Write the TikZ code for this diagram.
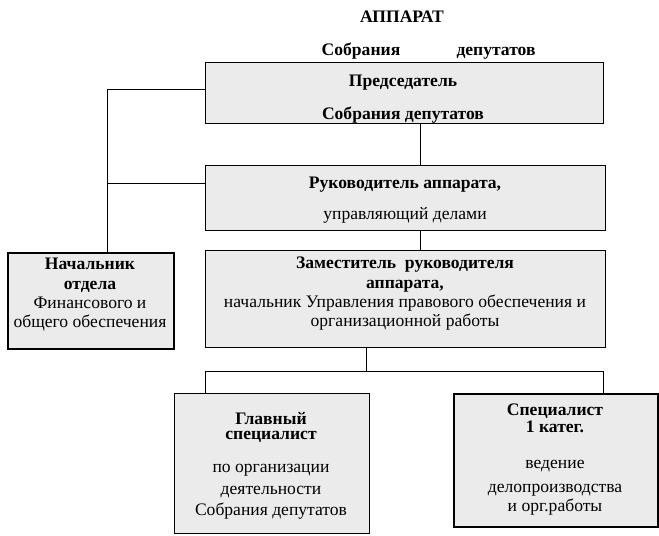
\documentclass[tikz,border=0pt]{standalone}
\usepackage{fontspec}
\setmainfont{Liberation Serif}
\usetikzlibrary{positioning}

\begin{document}
\begin{tikzpicture}[
		x=0.02cm, y=-0.02cm,
		font=\fontsize{10}{11}\selectfont,
		bold/.style={font=\fontsize{10}{11}\selectfont\bfseries},
		box/.style={draw, fill=black!8, line width=0.8pt, anchor=north west, inner sep=0pt},
		thickbox/.style={box, line width=1.4pt},
		txt/.style={align=center, anchor=north, inner sep=0pt},
		link/.style={line width=0.6pt},
	]
	\useasboundingbox (0,0) rectangle (659,535);

	\node[bold, anchor=base] (title) at (402,22) {АППАРАТ};
	\node[bold, anchor=base] (sobr) at (361,55) {Собрания};
	\node[bold, anchor=base] (dep) at (496,55) {депутатов};

	\node[box, minimum width=7.96cm, minimum height=1.22cm] (pred) at (205,62) {};
	\node[box, minimum width=8cm, minimum height=1.3cm] (ruk) at (205,165) {};
	\node[thickbox, minimum width=3.32cm, minimum height=1.92cm] (nach) at (7,252) {};
	\node[box, minimum width=8cm, minimum height=1.94cm] (zam) at (205,250) {};
	\node[box, minimum width=3.9cm, minimum height=2.8cm] (glav) at (174,393) {};
	\node[thickbox, minimum width=4.08cm, minimum height=2.66cm] (spec) at (453,393) {};

	\node[txt] (predtxt) at (403,75) {\textbf{Председатель}\\[7.7pt]\textbf{Собрания депутатов}};
	\node[txt] (ruktxt) at (405,177) {\textbf{Руководитель аппарата,}\\[6.6pt]управляющий делами};
	\node[txt] (nachtxt) at (90,258) {\textbf{Начальник}\\\textbf{отдела}\\Финансового и\\общего обеспечения};
	\node[txt] (zamtxt) at (405,257) {\textbf{Заместитель\ \ руководителя}\\\textbf{аппарата,}\\начальник Управления правового обеспечения и\\организационной работы};
	\node[txt] (glavtxt) at (271,412) {\textbf{Главный}\\[-2.5pt]\textbf{специалист}\\[7.7pt]по организации\\[1.5pt]деятельности\\[1pt]Собрания депутатов};
	\node[txt] (spectxt) at (555,404) {\textbf{Специалист}\\[-1.4pt]\textbf{1 катег.}\\[9.4pt]ведение\\[2.6pt]делопроизводства\\и орг.работы};

	\coordinate (trunk) at (107.5,89.5);
	\coordinate (split) at (366.5,371.5);
	\coordinate (lbranch) at (205.5,371.5);
	\coordinate (rbranch) at (603.5,371.5);

	\draw[link] ([xshift=0.32cm]pred.south) -- ([xshift=0.32cm]pred.south |- ruk.north);
	\draw[link] ([xshift=0.3cm]ruk.south) -- ([xshift=0.3cm]ruk.south |- zam.north);
	\draw[link] (pred.west |- trunk) -- (trunk) -- (trunk |- nach.north);
	\draw[link] ([yshift=0.29cm]ruk.west) -- ([yshift=0.29cm]ruk.west -| trunk);
	\draw[link] (zam.south -| split) -- (split);
	\draw[link] (glav.north -| lbranch) -- (lbranch) -- (rbranch) -- (spec.north -| rbranch);
\end{tikzpicture}
\end{document}
